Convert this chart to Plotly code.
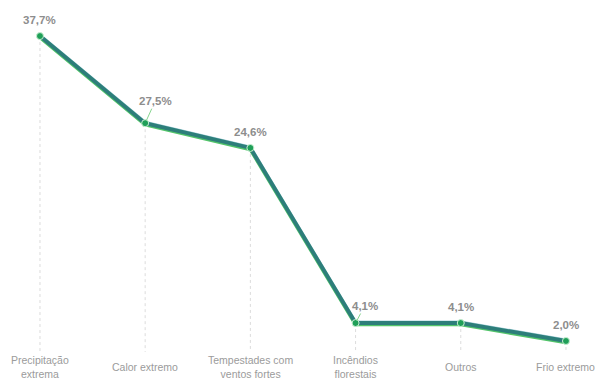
import plotly.graph_objects as go

# Share of extreme weather events by type (%)
categories = ["Precipitação extrema", "Calor extremo", "Tempestades com ventos fortes",
              "Incêndios florestais", "Outros", "Frio extremo"]
axis_labels = ["Precipitação<br>extrema", "Calor extremo", "Tempestades com<br>ventos fortes",
               "Incêndios<br>florestais", "Outros", "Frio extremo"]
values = [37.7, 27.5, 24.6, 4.1, 4.1, 2.0]
value_labels = ["37,7%", "27,5%", "24,6%", "4,1%", "4,1%", "2,0%"]

Y_RANGE = [0.71, 41.92]
X_RANGE = [-0.38, 5.276]
EDGE_SHIFT = 0.16  # a little over 1 px of the y scale

TEAL = "#2d7e7a"
GREEN = "#52c46a"
DOT = "#1f9f58"
TXT = "#8d8d8d"
LBL = "#9b9b9b"
FONT = "Liberation Sans, Arial, sans-serif"

fig = go.Figure()

# dotted drop lines from each point down to the bottom of the plot
drop_x, drop_y = [], []
for c, v in zip(categories, values):
    drop_x += [c, c, None]
    drop_y += [v, Y_RANGE[0], None]
fig.add_trace(go.Scatter(x=drop_x, y=drop_y, mode="lines",
                         line=dict(color="#dcdcdc", width=1, dash="dot"),
                         hoverinfo="skip", showlegend=False))

# green lower edge and pale upper edge of the ribbon line
fig.add_trace(go.Scatter(x=categories, y=values, mode="lines", yaxis="y2",
                         line=dict(color=GREEN, width=3.8), hoverinfo="skip",
                         showlegend=False))
fig.add_trace(go.Scatter(x=categories, y=values, mode="lines", yaxis="y3",
                         line=dict(color="#a9d3dc", width=3), hoverinfo="skip",
                         showlegend=False))
# main teal line, drawn above the edges
fig.add_trace(go.Scatter(x=categories, y=values, mode="lines", yaxis="y4",
                         line=dict(color=TEAL, width=3.9), showlegend=False))
# point markers
fig.add_trace(go.Scatter(x=categories, y=values, mode="markers", yaxis="y4",
                         marker=dict(color=DOT, size=7, line=dict(color="#c9efd2", width=1)),
                         cliponaxis=False, showlegend=False))

# value labels; two of them sit off to the side with a short leader line
offsets = {1: (10, -22), 3: (9, -17)}
for i, (c, v, t) in enumerate(zip(categories, values, value_labels)):
    font = dict(family=FONT, size=11.5, color=TXT)
    if i in offsets:
        ax, ay = offsets[i]
        fig.add_annotation(x=c, y=v, text="<b>%s</b>" % t, showarrow=True,
                           ax=ax, ay=ay, arrowhead=0, arrowwidth=1,
                           arrowcolor="#86d58e", standoff=3, font=font,
                           xanchor="center", yanchor="middle")
    else:
        fig.add_annotation(x=c, y=v, text="<b>%s</b>" % t, showarrow=False,
                           yshift=16, font=font, xanchor="center", yanchor="middle")

# category labels under the axis
for c, lab in zip(categories, axis_labels):
    fig.add_annotation(x=c, y=0, xref="x", yref="paper", text=lab, showarrow=False,
                       yshift=-15, xanchor="center", yanchor="middle",
                       font=dict(family=FONT, size=10.5, color=LBL))

hidden = dict(showgrid=False, zeroline=False, showline=False, showticklabels=False,
              ticks="")
fig.update_layout(
    width=595, height=379,
    margin=dict(l=0, r=0, t=0, b=27),
    paper_bgcolor="white", plot_bgcolor="white",
    xaxis=dict(type="category", categoryarray=categories, range=X_RANGE, **hidden),
    yaxis=dict(range=Y_RANGE, **hidden),
    yaxis2=dict(overlaying="y", range=[Y_RANGE[0] + EDGE_SHIFT, Y_RANGE[1] + EDGE_SHIFT],
                visible=False),
    yaxis3=dict(overlaying="y", range=[Y_RANGE[0] - EDGE_SHIFT * 0.7, Y_RANGE[1] - EDGE_SHIFT * 0.7],
                visible=False),
    yaxis4=dict(overlaying="y", range=Y_RANGE, visible=False),
    showlegend=False,
)

fig.write_html("out.html")
